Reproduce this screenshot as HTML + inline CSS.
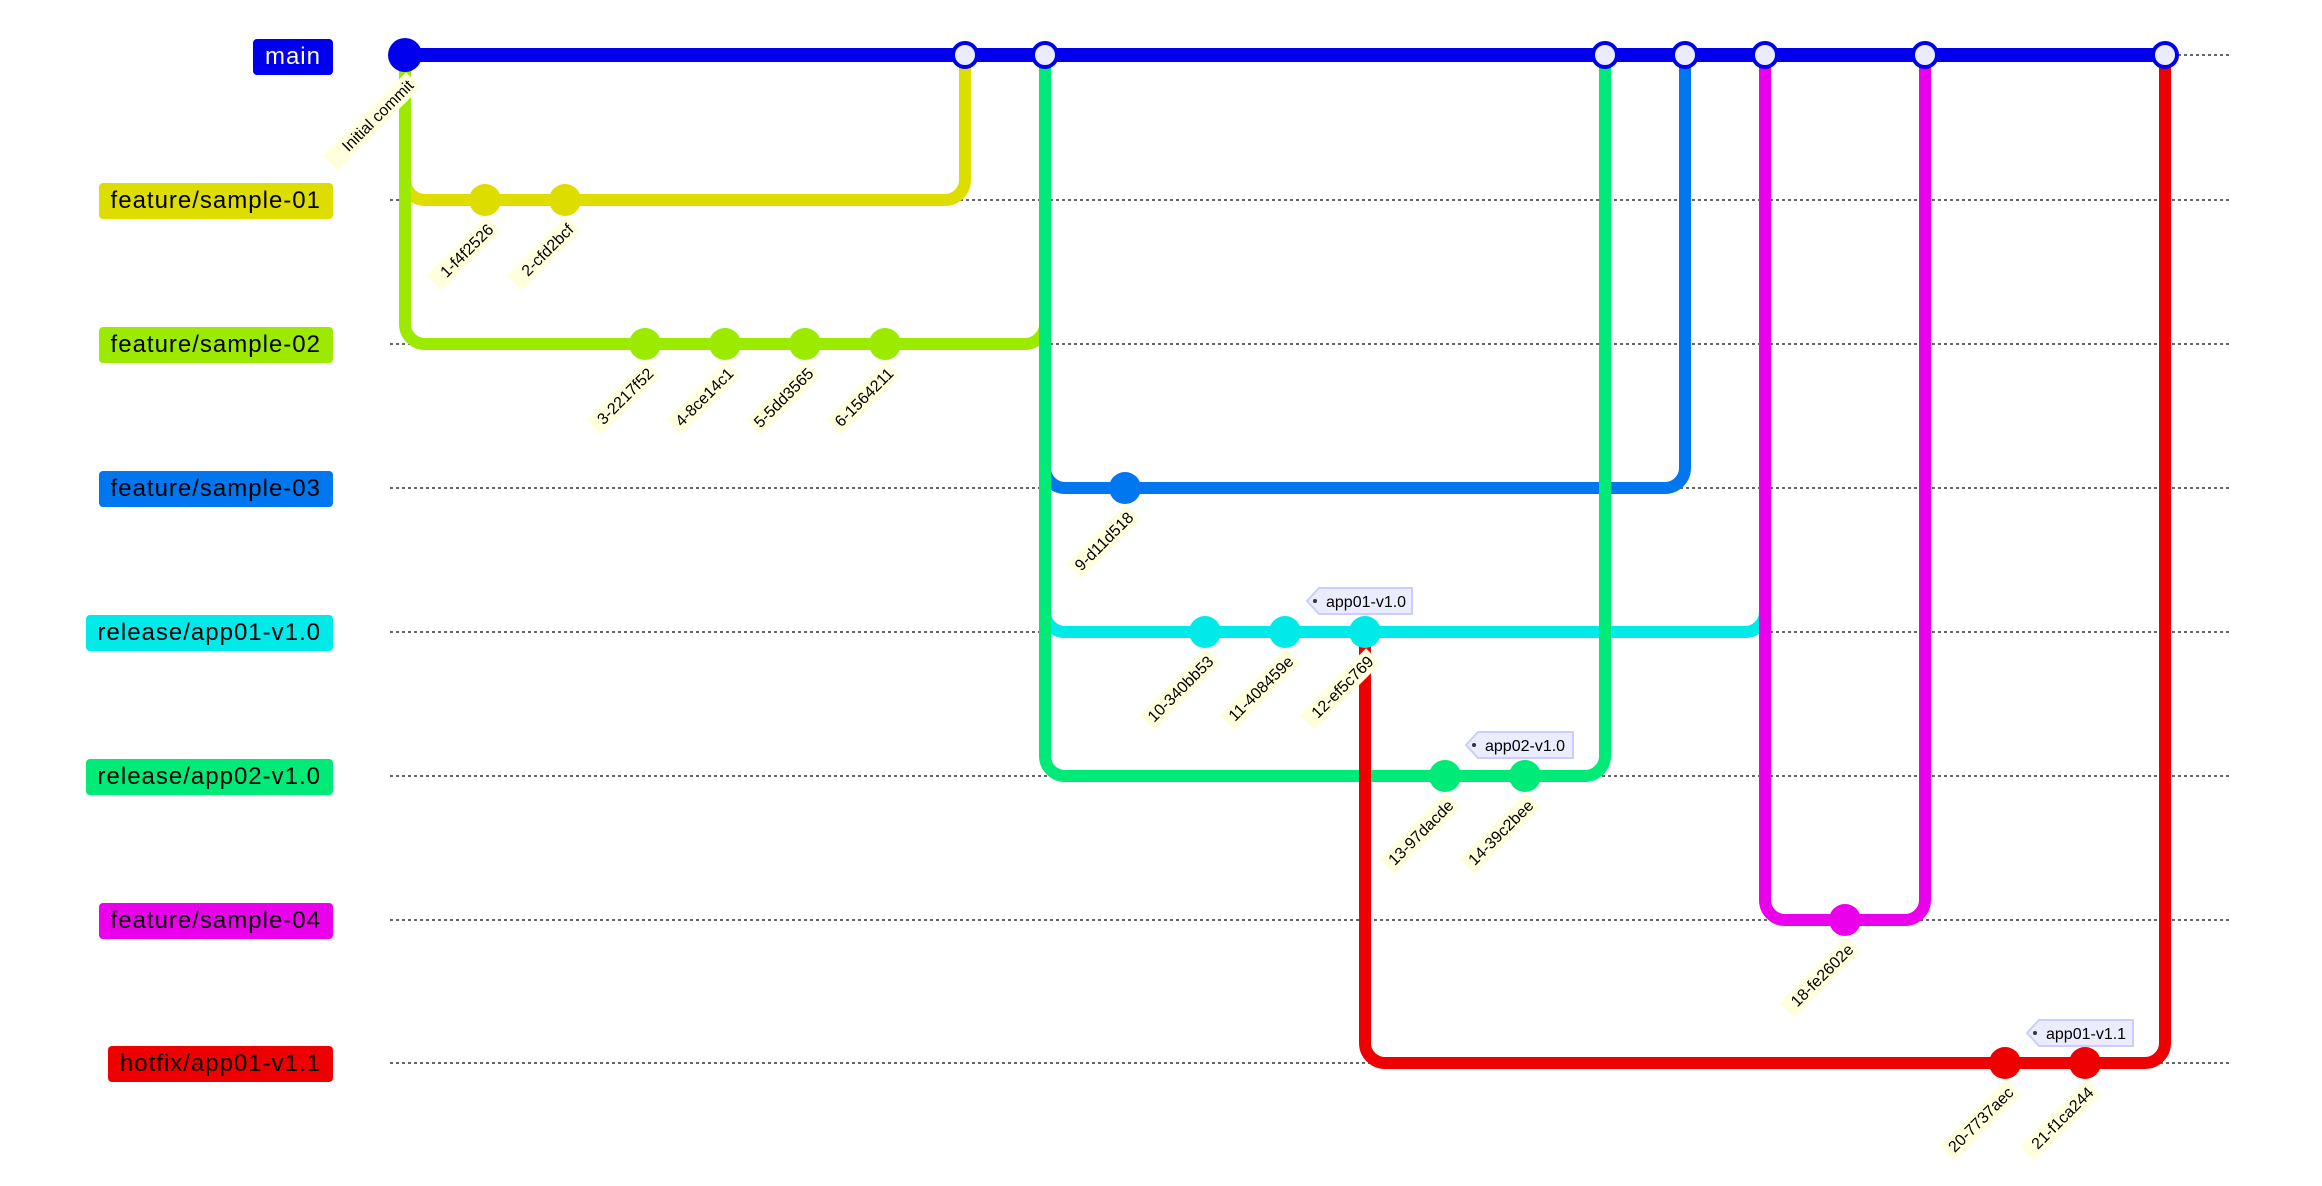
<!DOCTYPE html>
<html><head><meta charset="utf-8"><style>
html,body{margin:0;padding:0;background:#fff;}
body{width:2322px;height:1186px;position:relative;overflow:hidden;font-family:"Liberation Sans",sans-serif;}
.lb{position:absolute;right:1989px;height:36px;line-height:36px;padding:0 12px;border-radius:4px;font-size:24px;letter-spacing:1px;color:#000;white-space:nowrap;}
svg{position:absolute;left:0;top:0;}
</style></head><body>
<div class="lb" style="top:39px;background:#0000ee;color:#fff;">main</div>
<div class="lb" style="top:183px;background:#dddd00;">feature/sample-01</div>
<div class="lb" style="top:327px;background:#9bea00;">feature/sample-02</div>
<div class="lb" style="top:471px;background:#0077ee;">feature/sample-03</div>
<div class="lb" style="top:615px;background:#00eaea;">release/app01-v1.0</div>
<div class="lb" style="top:759px;background:#00ea77;">release/app02-v1.0</div>
<div class="lb" style="top:903px;background:#ea00ea;">feature/sample-04</div>
<div class="lb" style="top:1046px;background:#ee0000;">hotfix/app01-v1.1</div>
<svg width="2322" height="1186" xmlns="http://www.w3.org/2000/svg">
<g stroke="#666" stroke-width="2" stroke-dasharray="3 3">
<line x1="390" y1="55" x2="2232" y2="55"/>
<line x1="390" y1="200" x2="2232" y2="200"/>
<line x1="390" y1="344" x2="2232" y2="344"/>
<line x1="390" y1="488" x2="2232" y2="488"/>
<line x1="390" y1="632" x2="2232" y2="632"/>
<line x1="390" y1="776" x2="2232" y2="776"/>
<line x1="390" y1="920" x2="2232" y2="920"/>
<line x1="390" y1="1063" x2="2232" y2="1063"/>
</g>
<g fill="none" stroke-width="12">
<path stroke="#dddd00" d="M405,55 L405,180 A20,20 0 0 0 425,200 L945,200 A20,20 0 0 0 965,180 L965,55"/>
<path stroke="#9bea00" d="M405,55 L405,324 A20,20 0 0 0 425,344 L1025,344 A20,20 0 0 0 1045,324 L1045,55"/>
<path stroke="#0077ee" d="M1045,55 L1045,468 A20,20 0 0 0 1065,488 L1665,488 A20,20 0 0 0 1685,468 L1685,55"/>
<path stroke="#00eaea" d="M1045,55 L1045,612 A20,20 0 0 0 1065,632 L1745,632 A20,20 0 0 0 1765,612 L1765,55"/>
<path stroke="#00ea77" d="M1045,55 L1045,756 A20,20 0 0 0 1065,776 L1585,776 A20,20 0 0 0 1605,756 L1605,55"/>
<path stroke="#ea00ea" d="M1765,55 L1765,900 A20,20 0 0 0 1785,920 L1905,920 A20,20 0 0 0 1925,900 L1925,55"/>
<path stroke="#ee0000" d="M1365,632 L1365,1043 A20,20 0 0 0 1385,1063 L2145,1063 A20,20 0 0 0 2165,1043 L2165,55"/>
<path stroke="#0000ee" stroke-width="14" d="M405,55 L2165,55"/>
</g>
<circle cx="405" cy="55" r="17" fill="#0000ee"/>
<g fill="#ececff" stroke="#0000ee" stroke-width="4">
<circle cx="965" cy="55" r="12"/><circle cx="1045" cy="55" r="12"/><circle cx="1605" cy="55" r="12"/>
<circle cx="1685" cy="55" r="12"/><circle cx="1765" cy="55" r="12"/><circle cx="1925" cy="55" r="12"/><circle cx="2165" cy="55" r="12"/>
</g>
<g fill="#dddd00"><circle cx="485" cy="200" r="16"/><circle cx="565" cy="200" r="16"/></g>
<g fill="#9bea00"><circle cx="645" cy="344" r="16"/><circle cx="725" cy="344" r="16"/><circle cx="805" cy="344" r="16"/><circle cx="885" cy="344" r="16"/></g>
<circle cx="1125" cy="488" r="16" fill="#0077ee"/>
<g fill="#00eaea"><circle cx="1205" cy="632" r="16"/><circle cx="1285" cy="632" r="16"/><circle cx="1365" cy="632" r="16"/></g>
<g fill="#00ea77"><circle cx="1445" cy="776" r="16"/><circle cx="1525" cy="776" r="16"/></g>
<circle cx="1845" cy="920" r="16" fill="#ea00ea"/>
<g fill="#ee0000"><circle cx="2005" cy="1063" r="16"/><circle cx="2085" cy="1063" r="16"/></g>
<g font-family="Liberation Sans, sans-serif" font-size="16" fill="#000">
<g transform="translate(411,83) rotate(-45)"><rect x="-114" y="-11" width="118" height="21" fill="#ffffde"/><text x="0" y="5" text-anchor="end">Initial commit</text></g>
<g transform="translate(491,227) rotate(-45)"><rect x="-80" y="-11" width="84" height="21" fill="#ffffde"/><text x="0" y="5" text-anchor="end">1-f4f2526</text></g>
<g transform="translate(571,227) rotate(-45)"><rect x="-80" y="-11" width="84" height="21" fill="#ffffde"/><text x="0" y="5" text-anchor="end">2-cfd2bcf</text></g>
<g transform="translate(651,371) rotate(-45)"><rect x="-80" y="-11" width="84" height="21" fill="#ffffde"/><text x="0" y="5" text-anchor="end">3-2217f52</text></g>
<g transform="translate(731,371) rotate(-45)"><rect x="-80" y="-11" width="84" height="21" fill="#ffffde"/><text x="0" y="5" text-anchor="end">4-8ce14c1</text></g>
<g transform="translate(811,371) rotate(-45)"><rect x="-80" y="-11" width="84" height="21" fill="#ffffde"/><text x="0" y="5" text-anchor="end">5-5dd3565</text></g>
<g transform="translate(891,371) rotate(-45)"><rect x="-80" y="-11" width="84" height="21" fill="#ffffde"/><text x="0" y="5" text-anchor="end">6-1564211</text></g>
<g transform="translate(1131,515) rotate(-45)"><rect x="-80" y="-11" width="84" height="21" fill="#ffffde"/><text x="0" y="5" text-anchor="end">9-d11d518</text></g>
<g transform="translate(1211,659) rotate(-45)"><rect x="-90" y="-11" width="94" height="21" fill="#ffffde"/><text x="0" y="5" text-anchor="end">10-340bb53</text></g>
<g transform="translate(1291,659) rotate(-45)"><rect x="-90" y="-11" width="94" height="21" fill="#ffffde"/><text x="0" y="5" text-anchor="end">11-408459e</text></g>
<g transform="translate(1371,659) rotate(-45)"><rect x="-90" y="-11" width="94" height="21" fill="#ffffde"/><text x="0" y="5" text-anchor="end">12-ef5c769</text></g>
<g transform="translate(1451,803) rotate(-45)"><rect x="-90" y="-11" width="94" height="21" fill="#ffffde"/><text x="0" y="5" text-anchor="end">13-97dacde</text></g>
<g transform="translate(1531,803) rotate(-45)"><rect x="-90" y="-11" width="94" height="21" fill="#ffffde"/><text x="0" y="5" text-anchor="end">14-39c2bee</text></g>
<g transform="translate(1851,947) rotate(-45)"><rect x="-90" y="-11" width="94" height="21" fill="#ffffde"/><text x="0" y="5" text-anchor="end">18-fe2602e</text></g>
<g transform="translate(2011,1090) rotate(-45)"><rect x="-90" y="-11" width="94" height="21" fill="#ffffde"/><text x="0" y="5" text-anchor="end">20-7737aec</text></g>
<g transform="translate(2091,1090) rotate(-45)"><rect x="-90" y="-11" width="94" height="21" fill="#ffffde"/><text x="0" y="5" text-anchor="end">21-f1ca244</text></g>
</g>
<g font-family="Liberation Sans, sans-serif" font-size="16" fill="#000">
<polygon points="1307,601 1319,588 1412,588 1412,614 1319,614" fill="#ececff" stroke="#ccccff" stroke-width="2"/>
<circle cx="1315" cy="601" r="2" fill="#333"/><text x="1326" y="607">app01-v1.0</text>
<polygon points="1466,745 1478,732 1573,732 1573,758 1478,758" fill="#ececff" stroke="#ccccff" stroke-width="2"/>
<circle cx="1474" cy="745" r="2" fill="#333"/><text x="1485" y="751">app02-v1.0</text>
<polygon points="2027,1033 2039,1020 2133,1020 2133,1046 2039,1046" fill="#ececff" stroke="#ccccff" stroke-width="2"/>
<circle cx="2035" cy="1033" r="2" fill="#333"/><text x="2046" y="1039">app01-v1.1</text>
</g>
</svg>
</body></html>
